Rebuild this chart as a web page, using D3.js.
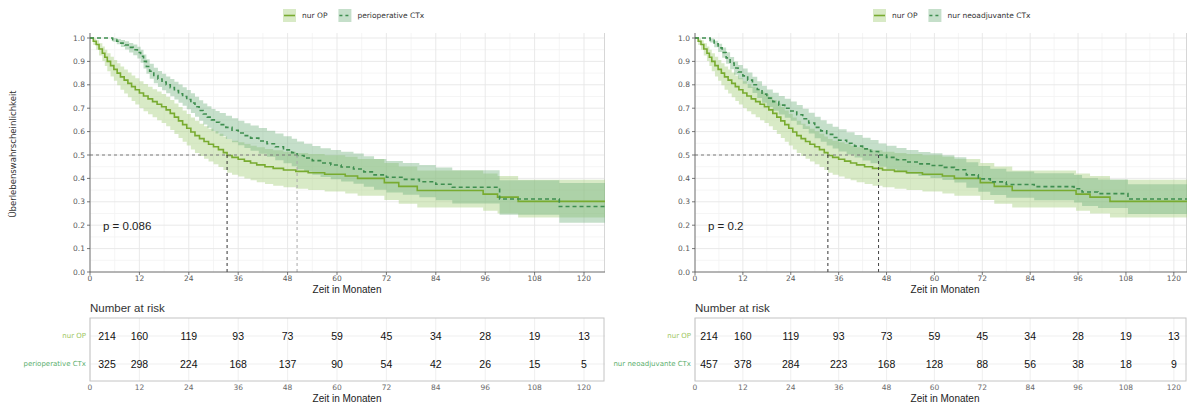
<!DOCTYPE html>
<html>
<head>
<meta charset="utf-8">
<script src="https://cdn.jsdelivr.net/npm/d3@7"></script>
<style>
  body { margin: 0; background: #fff; }
  svg { display: block; }
</style>
</head>
<body>
<svg id="chart" width="1187" height="405"></svg>
<script>
// ---------------- data ----------------
const xTicks = [0, 12, 24, 36, 48, 60, 72, 84, 96, 108, 120];
const yTicks = [0, 0.1, 0.2, 0.3, 0.4, 0.5, 0.6, 0.7, 0.8, 0.9, 1.0];

// nur OP (both panels): step times, survival, 95% CI
const nurOpTime = [0, 0.8, 1.5, 2.2, 3.0, 3.6, 4.2, 5.0, 5.8, 6.6, 7.4, 8.3, 9.2, 10.1, 11.0, 12.0, 13.0, 14.1, 15.2, 16.3, 17.4, 18.5, 19.5, 20.5, 21.5, 22.5, 23.5, 24.5, 25.5, 26.6, 27.7, 28.8, 30.0, 31.2, 32.4, 33.3, 34.5, 36.0, 37.5, 39.0, 40.5, 42.5, 44.5, 47.0, 50.0, 53.0, 57.0, 62.0, 65.0, 71.5, 75.0, 79.5, 95.5, 99.0, 104.0];
const nurOpSurv = [1.000, 0.986, 0.972, 0.953, 0.935, 0.918, 0.900, 0.882, 0.866, 0.850, 0.834, 0.820, 0.806, 0.792, 0.779, 0.765, 0.752, 0.740, 0.728, 0.717, 0.706, 0.693, 0.678, 0.662, 0.646, 0.630, 0.614, 0.598, 0.583, 0.570, 0.558, 0.546, 0.535, 0.523, 0.510, 0.498, 0.490, 0.482, 0.474, 0.466, 0.458, 0.450, 0.443, 0.436, 0.430, 0.424, 0.418, 0.410, 0.400, 0.382, 0.366, 0.348, 0.333, 0.320, 0.302];
const nurOpLow = [1.000, 0.970, 0.950, 0.925, 0.902, 0.880, 0.858, 0.836, 0.817, 0.798, 0.779, 0.763, 0.747, 0.731, 0.716, 0.701, 0.687, 0.674, 0.661, 0.649, 0.637, 0.623, 0.607, 0.590, 0.573, 0.557, 0.541, 0.524, 0.509, 0.496, 0.484, 0.472, 0.461, 0.449, 0.436, 0.424, 0.416, 0.408, 0.400, 0.392, 0.384, 0.376, 0.369, 0.362, 0.356, 0.350, 0.344, 0.336, 0.326, 0.308, 0.292, 0.276, 0.262, 0.250, 0.233];
const nurOpHigh = [1.000, 0.998, 0.990, 0.978, 0.964, 0.950, 0.935, 0.920, 0.906, 0.892, 0.878, 0.865, 0.853, 0.840, 0.828, 0.815, 0.803, 0.792, 0.781, 0.771, 0.761, 0.749, 0.735, 0.720, 0.705, 0.690, 0.675, 0.660, 0.646, 0.634, 0.623, 0.612, 0.602, 0.591, 0.579, 0.568, 0.561, 0.554, 0.547, 0.540, 0.533, 0.526, 0.520, 0.514, 0.509, 0.504, 0.499, 0.492, 0.483, 0.466, 0.451, 0.434, 0.421, 0.410, 0.394];

// perioperative CTx (left panel)
const periopTime = [0, 5.5, 6.5, 7.5, 8.5, 9.5, 10.5, 11.5, 12.3, 13.0, 13.7, 14.5, 15.5, 16.5, 17.5, 18.5, 19.5, 20.5, 21.5, 22.5, 23.5, 24.5, 25.5, 26.5, 27.5, 28.5, 29.5, 30.5, 31.5, 33.0, 34.5, 36.0, 37.5, 39.0, 41.0, 43.0, 45.0, 47.0, 49.0, 50.3, 52.0, 54.0, 56.0, 58.5, 61.0, 64.0, 66.5, 69.0, 72.0, 76.0, 80.0, 84.0, 88.0, 99.5, 114.0];
const periopSurv = [1.000, 0.993, 0.986, 0.978, 0.970, 0.960, 0.950, 0.938, 0.922, 0.900, 0.878, 0.858, 0.840, 0.825, 0.812, 0.800, 0.788, 0.775, 0.762, 0.750, 0.737, 0.722, 0.706, 0.690, 0.675, 0.662, 0.650, 0.640, 0.630, 0.618, 0.606, 0.594, 0.583, 0.572, 0.560, 0.548, 0.535, 0.522, 0.510, 0.498, 0.487, 0.476, 0.466, 0.457, 0.449, 0.440, 0.428, 0.415, 0.405, 0.396, 0.386, 0.375, 0.362, 0.312, 0.280];
const periopLow = [1.000, 0.984, 0.973, 0.962, 0.951, 0.938, 0.926, 0.912, 0.894, 0.870, 0.847, 0.826, 0.807, 0.791, 0.777, 0.764, 0.751, 0.737, 0.723, 0.710, 0.696, 0.680, 0.663, 0.646, 0.630, 0.616, 0.603, 0.592, 0.581, 0.568, 0.555, 0.542, 0.530, 0.518, 0.505, 0.492, 0.478, 0.465, 0.452, 0.439, 0.428, 0.416, 0.406, 0.396, 0.387, 0.377, 0.364, 0.351, 0.340, 0.330, 0.319, 0.307, 0.293, 0.245, 0.210];
const periopHigh = [1.000, 1.000, 0.996, 0.991, 0.986, 0.979, 0.972, 0.963, 0.950, 0.930, 0.909, 0.890, 0.873, 0.859, 0.847, 0.836, 0.825, 0.813, 0.801, 0.790, 0.778, 0.764, 0.749, 0.734, 0.720, 0.708, 0.697, 0.688, 0.679, 0.668, 0.657, 0.646, 0.636, 0.626, 0.615, 0.604, 0.592, 0.580, 0.569, 0.558, 0.548, 0.538, 0.529, 0.521, 0.514, 0.506, 0.495, 0.483, 0.474, 0.466, 0.457, 0.447, 0.435, 0.392, 0.380];

// nur neoadjuvante CTx (right panel)
const neoadjTime = [0, 3.8, 4.8, 5.8, 6.8, 7.8, 8.8, 9.8, 10.8, 12.0, 13.2, 14.4, 15.6, 16.8, 18.0, 19.5, 21.0, 22.5, 24.0, 25.5, 27.0, 28.5, 30.0, 31.5, 33.0, 34.5, 36.0, 38.0, 40.0, 42.0, 44.0, 46.0, 48.0, 50.5, 53.0, 56.0, 59.0, 62.0, 65.0, 68.0, 71.0, 74.0, 78.0, 85.0, 95.0, 97.0, 101.0, 108.5];
const neoadjSurv = [1.000, 0.990, 0.975, 0.958, 0.938, 0.915, 0.893, 0.872, 0.855, 0.838, 0.820, 0.800, 0.780, 0.760, 0.743, 0.728, 0.713, 0.700, 0.688, 0.672, 0.655, 0.637, 0.618, 0.603, 0.588, 0.575, 0.563, 0.550, 0.538, 0.526, 0.515, 0.500, 0.490, 0.480, 0.470, 0.462, 0.455, 0.447, 0.437, 0.415, 0.398, 0.385, 0.374, 0.365, 0.356, 0.342, 0.335, 0.312];
const neoadjLow = [1.000, 0.981, 0.961, 0.940, 0.916, 0.890, 0.866, 0.843, 0.824, 0.805, 0.786, 0.765, 0.744, 0.723, 0.705, 0.689, 0.673, 0.659, 0.646, 0.629, 0.611, 0.592, 0.572, 0.557, 0.541, 0.528, 0.515, 0.502, 0.489, 0.477, 0.465, 0.450, 0.440, 0.429, 0.419, 0.410, 0.402, 0.393, 0.383, 0.360, 0.343, 0.329, 0.317, 0.307, 0.297, 0.282, 0.273, 0.248];
const neoadjHigh = [1.000, 0.998, 0.988, 0.975, 0.959, 0.939, 0.919, 0.900, 0.885, 0.870, 0.853, 0.834, 0.815, 0.796, 0.780, 0.766, 0.752, 0.740, 0.729, 0.714, 0.698, 0.681, 0.663, 0.648, 0.634, 0.621, 0.610, 0.597, 0.586, 0.574, 0.564, 0.549, 0.540, 0.530, 0.521, 0.513, 0.507, 0.499, 0.490, 0.469, 0.453, 0.441, 0.430, 0.422, 0.414, 0.401, 0.395, 0.375];

// numbers at risk
const riskNurOp = [214, 160, 119, 93, 73, 59, 45, 34, 28, 19, 13];
const riskPeriop = [325, 298, 224, 168, 137, 90, 54, 42, 26, 15, 5];
const riskNeoadj = [457, 378, 284, 223, 168, 128, 88, 56, 38, 18, 9];

const groupNames = ["nur OP", "perioperative CTx", "nur neoadjuvante CTx"];
const pValues = ["p = 0.086", "p = 0.2"];

// ---------------- drawing ----------------
const svg = d3.select("#chart");
const TICK_FONT = "'DejaVu Sans', Verdana, sans-serif";
const TEXT_FONT = "'Liberation Sans', Arial, sans-serif";

const styles = {
  op:     { line: "#78ab30", band: "#a8d080", bandOpacity: 0.45, labelColor: "#9cc65e", dash: null },
  periop: { line: "#3e8e4f", band: "#6fb07a", bandOpacity: 0.40, labelColor: "#5aae6c", dash: "4,3" }
};

const yScale = d3.scaleLinear().domain([0, 1]).range([272, 38]);
const plotTop = 33;

function series(time, surv, low, high, name, risk, style) {
  return { time, surv, low, high, name, risk, style };
}

function drawPanel(cfg) {
  const x = d3.scaleLinear().domain([0, cfg.xMax]).range([cfg.left, cfg.right]);
  const y = yScale;
  const g = svg.append("g");

  // grid
  const minorX = d3.range(6, cfg.xMax, 12);
  const minorY = d3.range(0.05, 1.0, 0.1);
  g.selectAll(".gx-minor").data(minorX).join("line")
    .attr("x1", d => x(d)).attr("x2", d => x(d)).attr("y1", plotTop).attr("y2", y(0))
    .attr("stroke", "#f2f2f2").attr("stroke-width", 0.8);
  g.selectAll(".gy-minor").data(minorY).join("line")
    .attr("x1", cfg.left).attr("x2", cfg.right).attr("y1", d => y(d)).attr("y2", d => y(d))
    .attr("stroke", "#f2f2f2").attr("stroke-width", 0.8);
  g.selectAll(".gx").data(xTicks).join("line")
    .attr("x1", d => x(d)).attr("x2", d => x(d)).attr("y1", plotTop).attr("y2", y(0))
    .attr("stroke", "#e6e6e6").attr("stroke-width", 0.9);
  g.selectAll(".gy").data(yTicks).join("line")
    .attr("x1", cfg.left).attr("x2", cfg.right).attr("y1", d => y(d)).attr("y2", d => y(d))
    .attr("stroke", "#e6e6e6").attr("stroke-width", 0.9);
  g.append("line").attr("x1", cfg.right - 0.5).attr("x2", cfg.right - 0.5)
    .attr("y1", plotTop).attr("y2", y(0)).attr("stroke", "#d6d6d6").attr("stroke-width", 1);

  // confidence bands
  const area = d3.area().curve(d3.curveStepAfter)
    .x(d => x(d.t)).y0(d => y(d.lo)).y1(d => y(d.hi));
  cfg.series.forEach(s => {
    const pts = s.time.map((t, i) => ({ t, lo: s.low[i], hi: s.high[i] }));
    const last = pts[pts.length - 1];
    pts.push({ t: cfg.xMax, lo: last.lo, hi: last.hi });
    g.append("path").attr("d", area(pts))
      .attr("fill", s.style.band).attr("fill-opacity", s.style.bandOpacity);
  });

  // survival curves
  const line = d3.line().curve(d3.curveStepAfter).x(d => x(d[0])).y(d => y(d[1]));
  cfg.series.forEach(s => {
    const pts = s.time.map((t, i) => [t, s.surv[i]]);
    pts.push([cfg.xMax, s.surv[s.surv.length - 1]]);
    g.append("path").attr("d", line(pts))
      .attr("fill", "none").attr("stroke", s.style.line).attr("stroke-width", 1.6)
      .attr("stroke-dasharray", s.style.dash);
  });

  // median survival markers
  const medians = cfg.series.map(s => {
    const i = s.surv.findIndex(v => v <= 0.5);
    return s.time[i];
  });
  g.append("line").attr("x1", x(0)).attr("x2", x(d3.max(medians)))
    .attr("y1", y(0.5)).attr("y2", y(0.5))
    .attr("stroke", "#7a7a7a").attr("stroke-width", 1).attr("stroke-dasharray", "3,3");
  medians.forEach((m, i) => {
    g.append("line").attr("x1", x(m)).attr("x2", x(m)).attr("y1", y(0.5)).attr("y2", y(0))
      .attr("stroke", cfg.medianColors[i]).attr("stroke-width", 1).attr("stroke-dasharray", "3,3");
  });

  // axes
  g.append("line").attr("x1", cfg.left).attr("x2", cfg.left).attr("y1", plotTop).attr("y2", y(0))
    .attr("stroke", "#555").attr("stroke-width", 0.8);
  g.append("line").attr("x1", cfg.left).attr("x2", cfg.right).attr("y1", y(0)).attr("y2", y(0))
    .attr("stroke", "#555").attr("stroke-width", 0.8);
  g.selectAll(".ytk").data(yTicks).join("line")
    .attr("x1", cfg.left - 3).attr("x2", cfg.left).attr("y1", d => y(d)).attr("y2", d => y(d))
    .attr("stroke", "#555").attr("stroke-width", 0.8);
  g.selectAll(".ylab").data(yTicks).join("text")
    .attr("x", cfg.left - 5).attr("y", d => y(d)).attr("dy", "0.35em")
    .attr("text-anchor", "end").attr("font-family", TICK_FONT).attr("font-size", 7.5)
    .attr("fill", "#5a5a5a").text(d => d3.format(".1f")(d));
  g.selectAll(".xtk").data(xTicks).join("line")
    .attr("x1", d => x(d)).attr("x2", d => x(d)).attr("y1", y(0)).attr("y2", y(0) + 3)
    .attr("stroke", "#555").attr("stroke-width", 0.8);
  g.selectAll(".xlab").data(xTicks).join("text")
    .attr("x", d => x(d)).attr("y", 281).attr("text-anchor", "middle")
    .attr("font-family", TICK_FONT).attr("font-size", 7.5).attr("fill", "#5a5a5a").text(d => d);
  g.append("text").attr("x", cfg.titleX).attr("y", 293).attr("text-anchor", "middle")
    .attr("font-family", TEXT_FONT).attr("font-size", 10).attr("fill", "#222").text("Zeit in Monaten");

  // p-value
  g.append("text").attr("x", x(0) + 13).attr("y", 230)
    .attr("font-family", TEXT_FONT).attr("font-size", 11.5).attr("fill", "#222").text(cfg.pValue);

  // legend
  const lg = svg.append("g").attr("transform", `translate(${cfg.legendX},9)`);
  let lx = 0;
  cfg.series.forEach(s => {
    const item = lg.append("g").attr("transform", `translate(${lx},0)`);
    item.append("rect").attr("width", 13).attr("height", 13)
      .attr("fill", s.style.band).attr("fill-opacity", s.style.bandOpacity);
    item.append("line").attr("x1", 1).attr("x2", 12).attr("y1", 6.5).attr("y2", 6.5)
      .attr("stroke", s.style.line).attr("stroke-width", 1.6).attr("stroke-dasharray", s.style.dash ? "3,3" : null);
    const t = item.append("text").attr("x", 19).attr("y", 6.5).attr("dy", "0.35em")
      .attr("font-family", TICK_FONT).attr("font-size", 7.5).attr("fill", "#333").text(s.name);
    lx += 19 + t.node().getComputedTextLength() + 11;
  });

  // risk table
  const tTop = 318, tBottom = 381;
  const rowY = [336, 364];
  const tg = svg.append("g");
  tg.append("text").attr("x", cfg.left).attr("y", 312)
    .attr("font-family", TEXT_FONT).attr("font-size", 11.5).attr("fill", "#333").text("Number at risk");
  tg.selectAll(".tgx").data(xTicks).join("line")
    .attr("x1", d => x(d)).attr("x2", d => x(d)).attr("y1", tTop).attr("y2", tBottom)
    .attr("stroke", "#ededed").attr("stroke-width", 0.9);
  tg.selectAll(".tgy").data(rowY).join("line")
    .attr("x1", cfg.left).attr("x2", cfg.right).attr("y1", d => d).attr("y2", d => d)
    .attr("stroke", "#ededed").attr("stroke-width", 0.9);
  tg.append("rect").attr("x", cfg.left).attr("y", tTop)
    .attr("width", cfg.right - cfg.left - 1).attr("height", tBottom - tTop)
    .attr("fill", "none").attr("stroke", "#c4c4c4").attr("stroke-width", 1);
  cfg.series.forEach((s, r) => {
    tg.append("text").attr("x", cfg.left - 4).attr("y", rowY[r]).attr("dy", "0.35em")
      .attr("text-anchor", "end").attr("font-family", TICK_FONT).attr("font-size", 7)
      .attr("fill", s.style.labelColor).text(s.name);
    tg.selectAll(null).data(s.risk).join("text")
      .attr("x", (d, i) => Math.max(x(xTicks[i]), x(0) + cfg.firstOffset))
      .attr("y", rowY[r]).attr("dy", "0.35em").attr("text-anchor", "middle")
      .attr("font-family", TEXT_FONT).attr("font-size", 10.5).attr("fill", "#111").text(d => d);
  });
  tg.selectAll(".tlab").data(xTicks).join("text")
    .attr("x", d => x(d)).attr("y", 390).attr("text-anchor", "middle")
    .attr("font-family", TICK_FONT).attr("font-size", 7.5).attr("fill", "#6a6a6a").text(d => d);
  tg.append("text").attr("x", cfg.titleX).attr("y", 402).attr("text-anchor", "middle")
    .attr("font-family", TEXT_FONT).attr("font-size", 10).attr("fill", "#222").text("Zeit in Monaten");
}

const nurOp = series(nurOpTime, nurOpSurv, nurOpLow, nurOpHigh, groupNames[0], riskNurOp, styles.op);
const periop = series(periopTime, periopSurv, periopLow, periopHigh, groupNames[1], riskPeriop, styles.periop);
const neoadj = series(neoadjTime, neoadjSurv, neoadjLow, neoadjHigh, groupNames[2], riskNeoadj, styles.periop);

drawPanel({
  left: 90, right: 605, xMax: 125.1, titleX: 347, legendX: 283,
  series: [nurOp, periop], pValue: pValues[0], medianColors: ["#333", "#a8a8a8"], firstOffset: 17
});
drawPanel({
  left: 695, right: 1187, xMax: 123.3, titleX: 945, legendX: 873,
  series: [nurOp, neoadj], pValue: pValues[1], medianColors: ["#333", "#444"], firstOffset: 14
});

// y-axis title (left panel only)
svg.append("text").attr("transform", "translate(16,154) rotate(-90)")
  .attr("text-anchor", "middle").attr("font-family", TICK_FONT).attr("font-size", 8.5)
  .attr("fill", "#333").text("Überlebenswahrscheinlichkeit");
</script>
</body>
</html>
